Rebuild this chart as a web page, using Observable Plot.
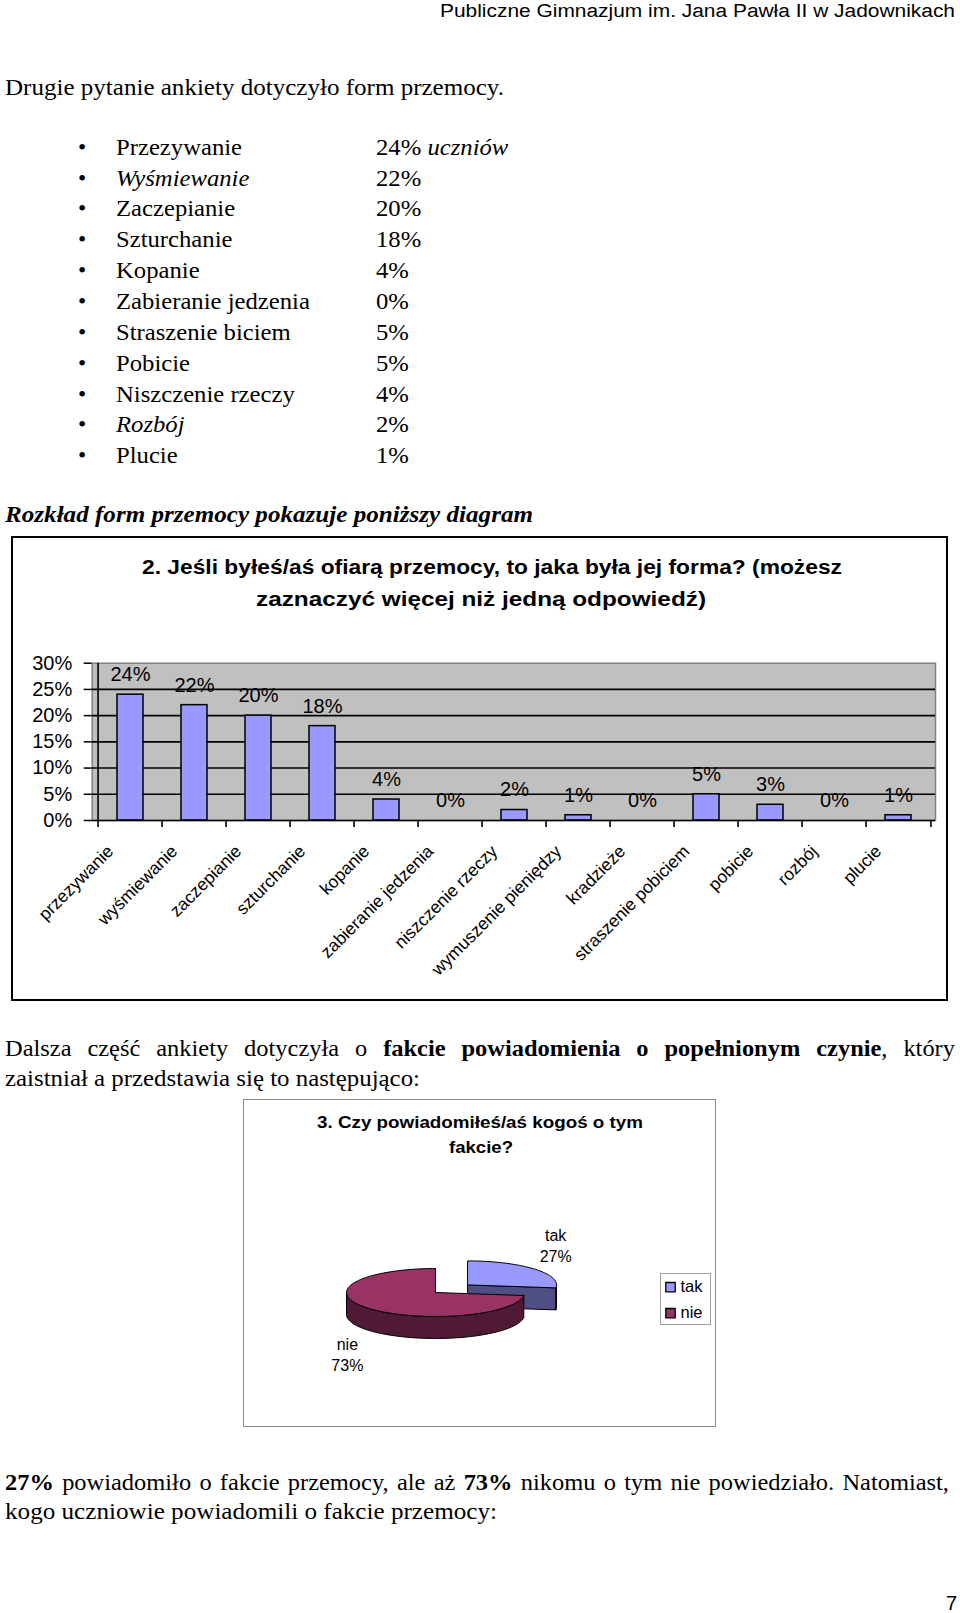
<!DOCTYPE html>
<html><head><meta charset="utf-8">
<script src="https://cdn.jsdelivr.net/npm/d3@7"></script>
<script src="https://cdn.jsdelivr.net/npm/@observablehq/plot@0.6"></script>
<style>
html,body{margin:0;padding:0;background:#fff;}
body{width:960px;height:1613px;position:relative;overflow:hidden;color:#000;}
</style></head><body>
<script>
// ---------- DATA ----------
const listNames = ["Przezywanie","Wyśmiewanie","Zaczepianie","Szturchanie","Kopanie","Zabieranie jedzenia","Straszenie biciem","Pobicie","Niszczenie rzeczy","Rozbój","Plucie"];
const listValues = [24,22,20,18,4,0,5,5,4,2,1];
const listUnit = "uczniów";

const yTicks = [0,5,10,15,20,25,30];
const categories = ["przezywanie","wyśmiewanie","zaczepianie","szturchanie","kopanie","zabieranie jedzenia","niszczenie rzeczy","wymuszenie pieniędzy","kradzieże","straszenie pobiciem","pobicie","rozbój","plucie"];
const values = [24,22,20,18,4,0,2,1,0,5,3,0,1];

const pieLabels = ["tak","nie"];
const pieValues = [27,73];

// ---------- STYLE ----------
const SERIF = '"Liberation Serif","Times New Roman",serif';
const SANS = '"Liberation Sans",Arial,sans-serif';
const STRETCH = 1.04;
const BODY = 23.5;
const pieColors = ["#9999ff","#993366"];
const pieSideColors = ["#4f4f85","#501a36"];

function txt(html, o){
  const d=document.createElement("div");
  d.innerHTML=html;
  const s=d.style;
  s.position="absolute"; s.whiteSpace="nowrap";
  s.fontFamily=o.sans?SANS:SERIF; s.fontSize=o.size+"px"; s.lineHeight=o.size+"px";
  s.fontWeight=o.bold?"bold":"normal"; s.fontStyle=o.italic?"italic":"normal";
  s.top=(o.cy-0.5*o.size)+"px"; s.left=o.left+"px";
  document.body.appendChild(d);
  const w=d.getBoundingClientRect().width;
  if(o.right!=null){
    const tw=o.right-o.left;
    if(o.justify && w*STRETCH<tw){
      s.whiteSpace="normal"; s.width=(tw/STRETCH)+"px"; s.textAlign="justify"; s.textAlignLast="justify";
      s.transformOrigin="0 0"; s.transform=`scaleX(${STRETCH})`;
    } else { s.transformOrigin="0 0"; s.transform=`scaleX(${tw/w})`; }
  } else if(o.sx){ s.transformOrigin="0 0"; s.transform=`scaleX(${o.sx})`; }
  return d;
}
function box(l,t,r,b,border){
  const d=document.createElement("div");
  Object.assign(d.style,{position:"absolute",left:l+"px",top:t+"px",width:(r-l)+"px",height:(b-t)+"px",border,boxSizing:"border-box"});
  document.body.appendChild(d); return d;
}

// ---------- PAGE TEXT ----------
txt("Publiczne Gimnazjum im. Jana Pawła II w Jadownikach",{sans:true,size:18,left:440,right:955,cy:10.5});
txt("Drugie pytanie ankiety dotyczyło form przemocy.",{size:BODY,left:5,right:504,cy:88});

listNames.forEach((n,i)=>{
  const cy=147.5+i*30.85;
  const it = (n==="Wyśmiewanie"||n==="Rozbój");
  txt("•",{size:BODY,left:78,cy});
  txt(n,{size:BODY,left:116,cy,italic:it,sx:1.05});
  txt(listValues[i]+"%"+(i===0?` <i>${listUnit}</i>`:""),{size:BODY,left:376,cy,sx:1.05});
});

txt("Rozkład form przemocy pokazuje poniższy diagram",{size:BODY,bold:true,italic:true,left:5,right:533,cy:515});

// ---------- BAR CHART ----------
box(11,536,948,1001,"2px solid #000");
txt("2. Jeśli byłeś/aś ofiarą przemocy, to jaka była jej forma? (możesz",{sans:true,bold:true,size:20,left:142,right:842,cy:567});
txt("zaznaczyć więcej niż jedną odpowiedź)",{sans:true,bold:true,size:20,left:256,right:706,cy:599});

const PL=91.7, PR=935, PT=662.7, PB=820, SVG_TOP=640, SVG_H=360;
const step=(PR-PL)/categories.length;
const barData=categories.map((c,i)=>({c,v:values[i]}));
const bar=Plot.plot({
  width:960,height:SVG_H,
  marginLeft:PL,marginRight:960-PR,marginTop:PT-SVG_TOP,marginBottom:SVG_TOP+SVG_H-PB,
  style:{background:"transparent",overflow:"visible",fontFamily:SANS,color:"#000"},
  x:{domain:categories,paddingInner:0.6,paddingOuter:0.3},
  y:{domain:[0,30]},
  marks:[
    Plot.frame({fill:"#c0c0c0",stroke:"#808080",strokeWidth:1.5}),
    Plot.ruleY(yTicks.filter(d=>d>0&&d<30),{stroke:"#000",strokeWidth:1.6}),
    Plot.barY(barData,{x:"c",y:"v",fill:"#9999ff",stroke:"#000",strokeWidth:1.5}),
    Plot.ruleY([0],{stroke:"#000",strokeWidth:1.6}),
    Plot.ruleX([categories[0]],{y1:0,y2:30,dx:-step/2,stroke:"#000",strokeWidth:1.6}),
    Plot.ruleX(categories,{y1:-1.35,y2:0,dx:-step/2,stroke:"#000",strokeWidth:1.6}),
    Plot.ruleX([categories[categories.length-1]],{y1:-1.35,y2:0,dx:step/2,stroke:"#000",strokeWidth:1.6}),
    Plot.text(barData,{x:"c",y:"v",text:d=>d.v+"%",dy:-20,fontSize:20,fill:"#000"}),
    Plot.axisY({ticks:yTicks,tickFormat:d=>d+"%",tickSize:8,tickPadding:12,fontSize:20,strokeWidth:1.5,label:null}),
    Plot.axisX({tickSize:0,tickRotate:-45,tickPadding:12,dx:-20,dy:16,fontSize:17.5,label:null})
  ]
});
Object.assign(bar.style,{position:"absolute",left:"0px",top:SVG_TOP+"px"});
document.body.appendChild(bar);

// ---------- PARAGRAPH ----------
txt("Dalsza część ankiety dotyczyła o <b>fakcie powiadomienia o popełnionym czynie</b>, który",{size:BODY,left:5,right:955,cy:1049,justify:true});
txt("zaistniał a przedstawia się to następująco:",{size:BODY,left:5,right:420,cy:1079});

// ---------- PIE CHART ----------
const PIE={left:243,top:1099,right:716,bottom:1427};
box(PIE.left,PIE.top,PIE.right,PIE.bottom,"1.5px solid #8c8c8c");
txt("3. Czy powiadomiłeś/aś kogoś o tym",{sans:true,bold:true,size:17,left:317,right:643,cy:1122});
txt("fakcie?",{sans:true,bold:true,size:17,left:449,right:513,cy:1147});

const pw=PIE.right-PIE.left, ph=PIE.bottom-PIE.top;
const C0=[192,193], rx=89, ry=24, depth=22, explodeK=0.48;
const total=d3.sum(pieValues);
const rad=a=>a*Math.PI/180;
let acc=0;
const slices=pieValues.map((v,i)=>{
  const a0=acc/total*360; acc+=v; const a1=acc/total*360; const mid=(a0+a1)/2;
  const e = i===0?explodeK:0;
  const c=[C0[0]+e*rx*Math.sin(rad(mid)), C0[1]-e*ry*Math.cos(rad(mid))];
  return {label:pieLabels[i],v,a0,a1,mid,c,i};
});
const pt=(c,a,dz=0)=>[c[0]+rx*Math.sin(rad(a)), c[1]-ry*Math.cos(rad(a))+dz];
const arc=(c,a0,a1,dz)=>{const n=Math.max(2,Math.ceil(Math.abs(a1-a0)/2));return d3.range(n+1).map(k=>pt(c,a0+(a1-a0)*k/n,dz));};
const pieMarks=[];
const poly=(p,fill)=>pieMarks.push(Plot.line([...p,p[0]],{x:d=>d[0],y:d=>d[1],fill,stroke:"#000",strokeWidth:1,curve:"linear"}));
slices.forEach(s=>{
  const side=pieSideColors[s.i], top=pieColors[s.i], c=s.c;
  const cb=[c[0],c[1]+depth];
  if(Math.sin(rad(s.a0))< -1e-6) poly([c,pt(c,s.a0),pt(c,s.a0,depth),cb],side);
  if(Math.sin(rad(s.a1))> 1e-6) poly([c,pt(c,s.a1),pt(c,s.a1,depth),cb],side);
  const st=Math.max(s.a0,90), en=Math.min(s.a1,270);
  if(st<en) poly([...arc(c,st,en,0),...arc(c,en,st,depth)],side);
  poly([c,...arc(c,s.a0,s.a1,0)],top);
});
const labelData=slices.map(s=>({
  t:s.label+"\n"+s.v+"%",
  x:s.c[0]+1.32*rx*Math.sin(rad(s.mid)),
  y:s.c[1]-2.5*ry*Math.cos(rad(s.mid))+(Math.cos(rad(s.mid))<0?depth:0)
}));
pieMarks.push(Plot.text(labelData,{x:"x",y:"y",text:"t",fontSize:16,lineHeight:1.3,fill:"#000"}));
const legX=427, legY=187.7, legStep=26;
pieMarks.push(Plot.dot(pieLabels,{x:()=>legX,y:(d,i)=>legY+i*legStep,symbol:"square",r:5.3,fill:(d,i)=>pieColors[i],stroke:"#000",strokeWidth:1.3}));
pieMarks.push(Plot.text(pieLabels,{x:()=>legX+10,y:(d,i)=>legY+i*legStep,text:d=>d,textAnchor:"start",fontSize:16.5,fill:"#000"}));
box(660,1273,711,1325,"1.5px solid #a0a0a0");
const pie=Plot.plot({
  width:pw,height:ph,margin:0,
  style:{background:"transparent",overflow:"visible",fontFamily:SANS,color:"#000"},
  x:{domain:[0,pw],range:[0,pw],axis:null},
  y:{domain:[0,ph],range:[0,ph],axis:null},
  color:{type:"identity"},
  marks:pieMarks
});
Object.assign(pie.style,{position:"absolute",left:PIE.left+"px",top:PIE.top+"px"});
document.body.appendChild(pie);

// ---------- BOTTOM TEXT ----------
txt("<b>27%</b> powiadomiło o fakcie przemocy, ale aż <b>73%</b> nikomu o tym nie powiedziało. Natomiast,",{size:BODY,left:5,right:949,cy:1483,justify:true});
txt("kogo uczniowie powiadomili o fakcie przemocy:",{size:BODY,left:5,right:497,cy:1512});
txt("7",{sans:true,size:20,left:946,cy:1603});
</script>
</body></html>
